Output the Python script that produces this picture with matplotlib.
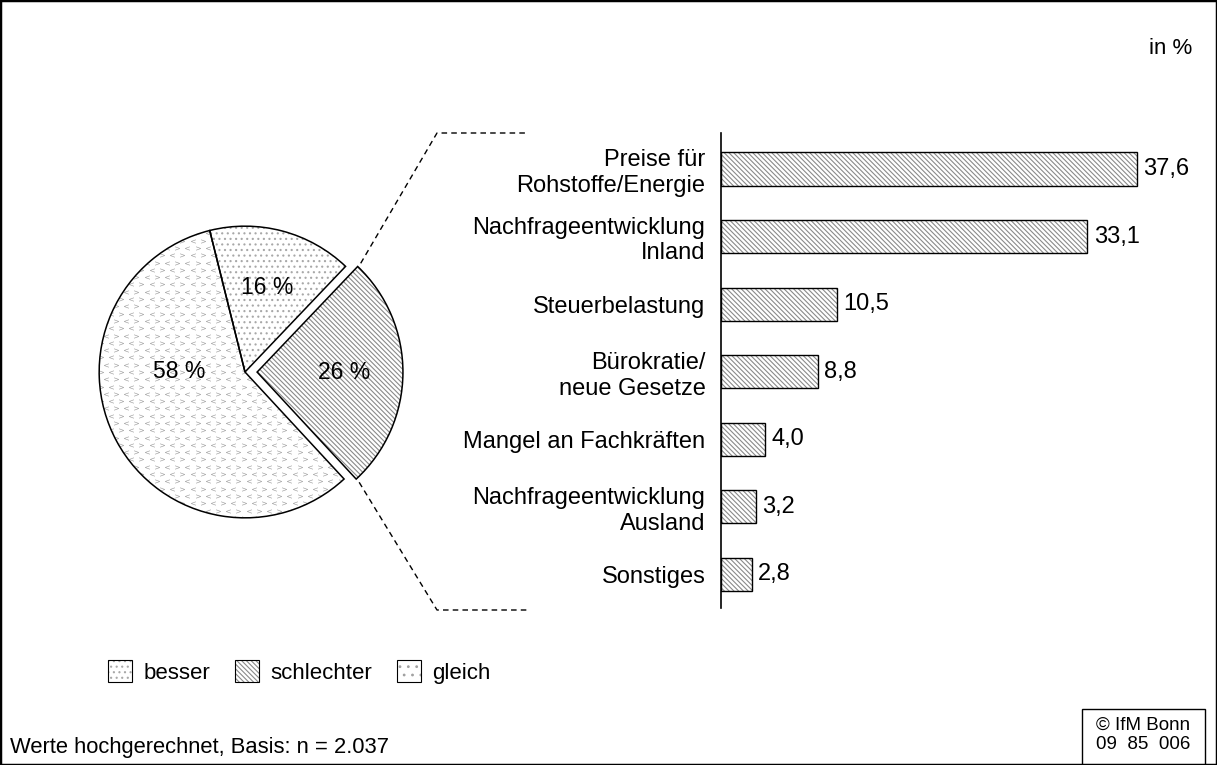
# Pie + bar breakdown chart (IfM Bonn style)
import matplotlib
matplotlib.use("Agg")
import matplotlib.pyplot as plt
import numpy as np
from matplotlib.patches import Patch, Rectangle, Wedge
from matplotlib.lines import Line2D

plt.rcParams['font.family'] = ['Liberation Sans', 'DejaVu Sans']
plt.rcParams['hatch.linewidth'] = 0.8

# Data
pie_labels = ['besser', 'schlechter', 'gleich']
pie_values = [16, 26, 58]
categories = ['Preise für\nRohstoffe/Energie', 'Nachfrageentwicklung\nInland',
              'Steuerbelastung', 'Bürokratie/\nneue Gesetze',
              'Mangel an Fachkräften', 'Nachfrageentwicklung\nAusland', 'Sonstiges']
values = [37.6, 33.1, 10.5, 8.8, 4.0, 3.2, 2.8]

W, H = 1217, 765
fig = plt.figure(figsize=(W / 100, H / 100), dpi=100)


def fx(px):
    return px / W


def fy(py):
    return 1 - py / H


hatch_grey = '#8a8a8a'
diag = '\\' * 7

# Pie chart
ax_pie = fig.add_axes([fx(70), fy(547), 350 / W, 350 / H])
wedges, texts, autotexts = ax_pie.pie(
    pie_values, startangle=104, counterclock=False, explode=[0, 0.083, 0],
    colors=['white'] * 3, wedgeprops=dict(linewidth=0),
    autopct=lambda p: f'{p:.0f} %', pctdistance=0.6,
    textprops=dict(fontsize=16.5))
ax_pie.set_xlim(-1.2, 1.2)
ax_pie.set_ylim(-1.2, 1.2)
ax_pie.set_aspect('equal')
ax_pie.axis('off')

wedges[0].set_hatch('...')
wedges[0].set_edgecolor('#a8a8a8')
wedges[1].set_hatch(diag)
wedges[1].set_edgecolor(hatch_grey)

# chevron texture for "gleich"
gx, gy = np.meshgrid(np.arange(-1.2, 1.2, 0.07), np.arange(-1.2, 1.2, 0.05))
gx = gx + (np.arange(gx.shape[0])[:, None] % 2) * 0.035
left = (np.arange(gx.shape[1])[None, :] + np.arange(gx.shape[0])[:, None]) % 2 == 0
for mask, mk in [(left, '$<$'), (~left, '$>$')]:
    sc = ax_pie.scatter(gx[mask], gy[mask], marker=mk, s=12, color='#a0a0a0',
                        linewidths=0, zorder=1.5)
    sc.set_clip_path(wedges[2])

for w in wedges:
    ax_pie.add_patch(Wedge(w.center, w.r, w.theta1, w.theta2, fill=False,
                           edgecolor='black', linewidth=1.1, zorder=3))
for t in autotexts:
    t.set_zorder(4)
autotexts[2].set_position((-0.45, 0.0))

# Bar chart
ax_bar = fig.add_axes([fx(720.7), fy(608), (1160 - 720.7) / W, (608 - 133) / H])
y = np.arange(len(values))
ax_bar.barh(y, values, height=0.49, color='white', edgecolor=hatch_grey,
            hatch=diag, linewidth=0)
ax_bar.barh(y, values, height=0.49, fill=False, edgecolor='black', linewidth=1.0)
ax_bar.set_xlim(0, (1160 - 720.7) / 11.08)
ax_bar.set_ylim(6.5, -0.533)
for s in ['top', 'right', 'bottom']:
    ax_bar.spines[s].set_visible(False)
ax_bar.spines['left'].set_linewidth(1.2)
ax_bar.set_xticks([])
ax_bar.set_yticks(y, categories, fontsize=17)
ax_bar.tick_params(axis='y', length=0, pad=11)
for yi, v in zip(y, values):
    ax_bar.annotate(f'{v:.1f}'.replace('.', ','), (v, yi), xytext=(4.5, 0),
                    textcoords='offset points', va='center', ha='left', fontsize=17)

# dashed connector lines from the exploded wedge to the bar block
ew = wedges[1]
for ang, py in [(ew.theta2, 133), (ew.theta1, 610)]:
    a = np.deg2rad(ang)
    px, pyy = ax_pie.transData.transform((ew.center[0] + 1.03 * np.cos(a),
                                          ew.center[1] + 1.03 * np.sin(a)))
    p0 = fig.transFigure.inverted().transform((px, pyy))
    xs = [p0[0], fx(437), fx(528)]
    ys = [p0[1], fy(py), fy(py)]
    fig.add_artist(Line2D(xs, ys, color='black', linewidth=1.0,
                          linestyle=(0, (4, 3))))

# Legend
handles = [
    (Patch(facecolor='white', edgecolor='#a8a8a8', hatch='...', linewidth=0),
     Patch(fill=False, edgecolor='black', linewidth=0.8)),
    (Patch(facecolor='white', edgecolor=hatch_grey, hatch=diag, linewidth=0),
     Patch(fill=False, edgecolor='black', linewidth=0.8)),
    (Patch(facecolor='white', edgecolor='#a0a0a0', hatch='..', linewidth=0),
     Patch(fill=False, edgecolor='black', linewidth=0.8)),
]
fig.legend(handles, pie_labels, loc='center left', bbox_to_anchor=(fx(108), fy(672)),
           ncol=3, frameon=False, fontsize=16, handlelength=1.1, handleheight=1.1,
           handletextpad=0.5, columnspacing=1.1, borderpad=0, borderaxespad=0)

# Texts
fig.text(fx(1192), fy(48), 'in %', ha='right', va='center', fontsize=16)
fig.text(fx(10), fy(747), 'Werte hochgerechnet, Basis: n = 2.037', ha='left',
         va='center', fontsize=15.8)
fig.add_artist(Rectangle((fx(1082), fy(766)), fx(1205) - fx(1082), fy(709) - fy(766),
                         transform=fig.transFigure, fill=False, edgecolor='black',
                         linewidth=1.0))
fig.text(fx(1143), fy(735), '© IfM Bonn\n09  85  006', ha='center', va='center',
         fontsize=13.5, linespacing=1.15)

# frame around figure
fig.add_artist(Rectangle((0, 0), 1, 1, transform=fig.transFigure, fill=False,
                         edgecolor='black', linewidth=2.5))

fig.savefig('out.png', dpi=100)
